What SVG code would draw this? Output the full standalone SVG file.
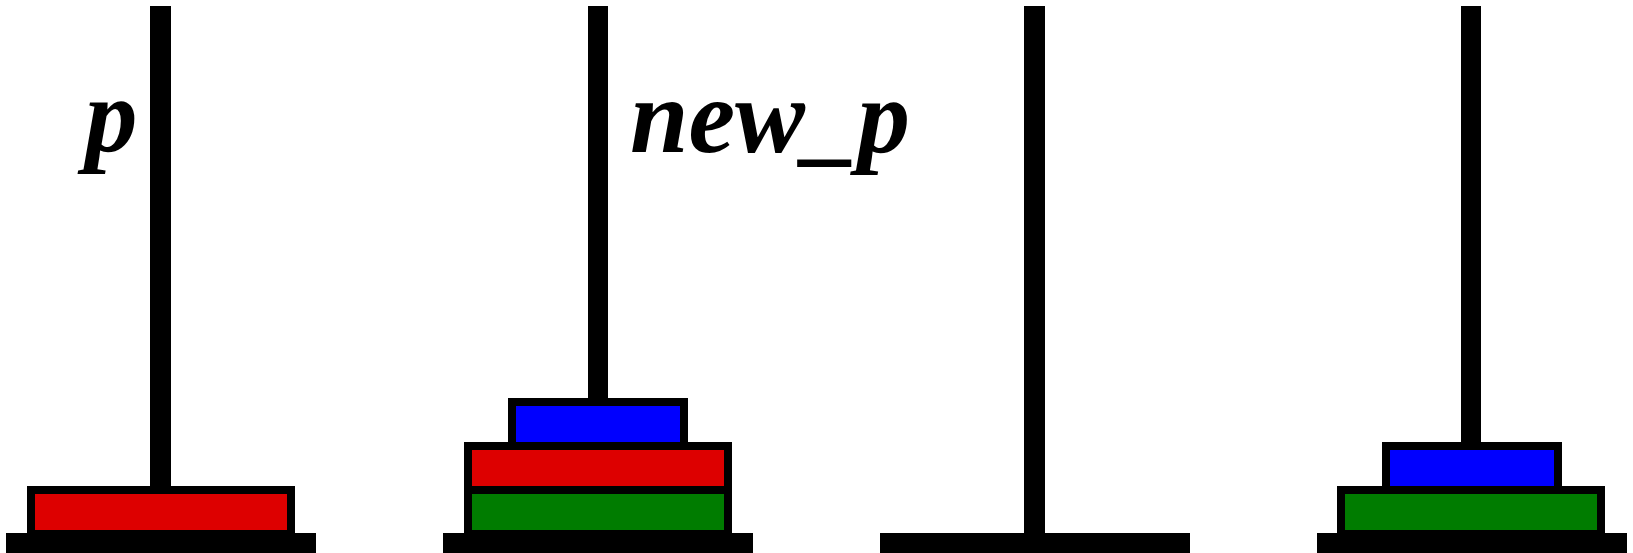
<svg xmlns="http://www.w3.org/2000/svg" width="1633" height="553" viewBox="0 0 1633 553">
<style>
.pole{fill:#000}
.base{fill:#000}
.disk{stroke:#000;stroke-width:8}
.red{fill:#dd0000}
.green{fill:#007c00}
.blue{fill:#0000ff}
.lbl{font-family:"Liberation Serif",serif;font-style:italic;font-weight:bold;font-size:105px;fill:#000}
</style>
<rect width="1633" height="553" fill="#fff"/>
<g id="peg1">
<rect class="pole" x="150" y="6" width="21" height="530"/>
<rect class="base" x="6" y="533" width="310" height="20"/>
<rect class="disk red" x="31" y="490" width="260" height="44"/>
<text class="lbl" x="85" y="151">p</text>
</g>
<g id="peg2">
<rect class="pole" x="588" y="6" width="20" height="530"/>
<rect class="base" x="443" y="533" width="310" height="20"/>
<rect class="disk green" x="468" y="490" width="260" height="44"/>
<rect class="disk red" x="468" y="446" width="260" height="44"/>
<rect class="disk blue" x="512" y="402" width="172" height="44"/>
<text class="lbl" x="630" y="152">new_p</text>
</g>
<g id="peg3">
<rect class="pole" x="1024" y="6" width="21" height="530"/>
<rect class="base" x="880" y="533" width="310" height="20"/>
</g>
<g id="peg4">
<rect class="pole" x="1461" y="6" width="20" height="530"/>
<rect class="base" x="1317" y="533" width="310" height="20"/>
<rect class="disk green" x="1341" y="490" width="260" height="44"/>
<rect class="disk blue" x="1386" y="446" width="172" height="44"/>
</g>
</svg>
